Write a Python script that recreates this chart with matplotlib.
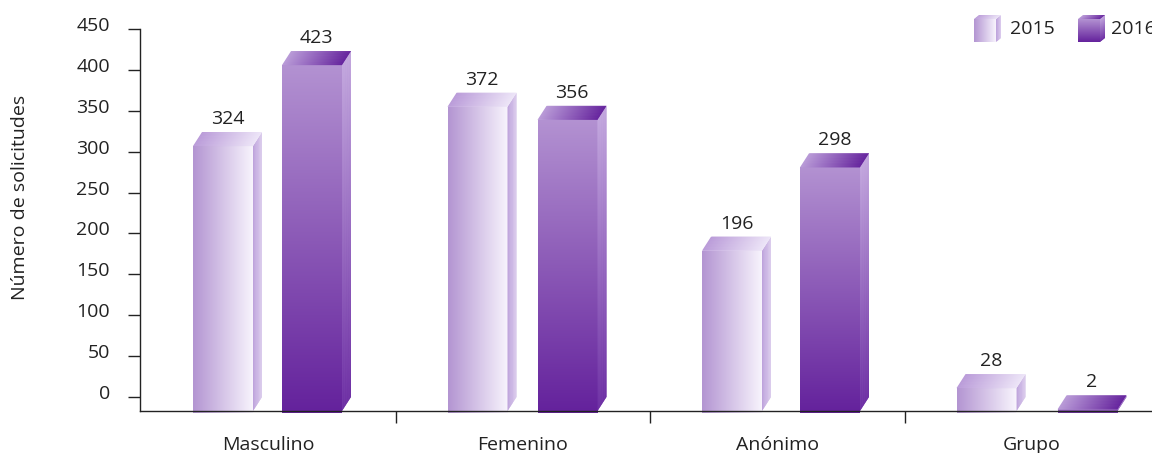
import matplotlib
matplotlib.use("Agg")
import matplotlib.pyplot as plt
import matplotlib.transforms as mtransforms
from matplotlib.patches import Polygon
import numpy as np

# ---- data ----
categories = ["Masculino", "Femenino", "Anónimo", "Grupo"]
years = ["2015", "2016"]
values_2015 = [324, 372, 196, 28]
values_2016 = [423, 356, 298, 2]
y_ticks = [0, 50, 100, 150, 200, 250, 300, 350, 400, 450]
y_label = "Número de solicitudes"

plt.rcParams['font.family'] = ['Open Sans', 'DejaVu Sans']
FS = 14

W, H = 1152, 453
fig = plt.figure(figsize=(W / 100, H / 100), dpi=100)
ax = fig.add_axes([140 / W, (H - 411) / H, (W - 140) / W, (411 - 29) / H])

ppu = (397 - 29) / 450.0
ax.set_ylim(-14 / ppu, 450)
cat_px = 254.5
ax.set_xlim(-(268.5 - 140) / cat_px, (1152 - 268.5) / cat_px)

for s in ["top", "right"]:
    ax.spines[s].set_visible(False)
for s in ["left", "bottom"]:
    ax.spines[s].set_linewidth(1.0)
    ax.spines[s].set_color("#222222")
    ax.spines[s].set_zorder(6)

ax.set_yticks(y_ticks)
ax.set_yticklabels([str(t) for t in y_ticks], fontsize=FS, color="#222222")
ax.tick_params(axis="y", length=8.6, width=1.0, color="#222222", pad=13)
off = mtransforms.ScaledTranslation(0, 5 / 100, fig.dpi_scale_trans)
for lab in ax.get_yticklabels():
    lab.set_transform(lab.get_transform() + off)

ax.set_xticks(range(len(categories)))
ax.set_xticklabels(categories, fontsize=FS, color="#222222")
ax.tick_params(axis="x", which="major", length=0, pad=18)
ax.set_xticks([0.5, 1.5, 2.5], minor=True)
ax.tick_params(axis="x", which="minor", length=8.6, width=1.0, color="#222222")

fig.text(20 / W, 1 - 197 / H, y_label, rotation=90, ha="center", va="center",
         fontsize=FS, color="#222222")

DX, DY = 9, 14  # depth offsets in pixels
ident = mtransforms.IdentityTransform()


def lerp(c0, c1, t):
    return tuple(a + (b - a) * t for a, b in zip(c0, c1))


def grad_quad(p00, p10, p11, p01, c0, c1, along="u", z=3):
    p00, p10, p11, p01 = map(np.asarray, (p00, p10, p11, p01))
    if along == "u":
        length = max(np.linalg.norm(p10 - p00), np.linalg.norm(p11 - p01))
    else:
        length = max(np.linalg.norm(p01 - p00), np.linalg.norm(p11 - p10))
    n = max(2, int(length))
    ext = 0.8 / max(length, 1e-6)
    for i in range(n):
        a = i / n
        b = min(1.0, (i + 1) / n + (ext if i < n - 1 else 0))
        t = (i + 0.5) / n
        col = lerp(c0, c1, t)
        if along == "u":
            pts = [p00 + (p10 - p00) * a, p00 + (p10 - p00) * b,
                   p01 + (p11 - p01) * b, p01 + (p11 - p01) * a]
        else:
            pts = [p00 + (p01 - p00) * a, p10 + (p11 - p10) * a,
                   p10 + (p11 - p10) * b, p00 + (p01 - p00) * b]
        ax.add_patch(Polygon(pts, closed=True, facecolor=col, edgecolor="none",
                             lw=0, transform=ident, zorder=z, clip_on=False))


L15 = (0.70, 0.58, 0.82)
W15 = (0.97, 0.955, 0.99)
S15a, S15b = (0.74, 0.63, 0.86), (0.86, 0.80, 0.93)
T15a, T15b = (0.73, 0.61, 0.85), (0.93, 0.90, 0.97)
F16a, F16b = (0.70, 0.57, 0.82), (0.39, 0.13, 0.61)
S16a, S16b = (0.76, 0.65, 0.87), (0.42, 0.17, 0.64)
T16a, T16b = (0.73, 0.61, 0.85), (0.40, 0.14, 0.62)

styles = {
    "2015": dict(front=(L15, W15, "u"), side=(S15a, S15b, "u"), top=(T15a, T15b, "u")),
    "2016": dict(front=(F16a, F16b, "v_down"), side=(S16a, S16b, "v_down"), top=(T16a, T16b, "u")),
}


def draw_box(X0, X1, Yb, Yt, st, dx=DX, dy=DY, under=0.0):
    fb, ft = Yb - dy - under, Yt - dy
    c0, c1, mode = st["front"]
    if mode == "u":
        grad_quad((X0, fb), (X1, fb), (X1, ft), (X0, ft), c0, c1, "u")
    else:
        grad_quad((X0, ft), (X1, ft), (X1, fb), (X0, fb), c0, c1, "v")
    c0, c1, mode = st["side"]
    sb = Yb - dy
    if mode == "u":
        grad_quad((X1, sb), (X1 + dx, Yb), (X1 + dx, Yt), (X1, ft), c0, c1, "u")
    else:
        grad_quad((X1, ft), (X1 + dx, Yt), (X1 + dx, Yb), (X1, sb), c0, c1, "v")
    c0, c1, mode = st["top"]
    grad_quad((X0, ft), (X1, ft), (X1 + dx, Yt), (X0 + dx, Yt), c0, c1, "u")


fig.canvas.draw()
bw = 60 / cat_px
left15 = -75.5 / cat_px               # front-face left edge of 2015 bar rel. to category
pair_gap = [89, 90, 98, 101]          # px between 2015 and 2016 front faces (layout)
for i in range(len(categories)):
    for year, vals, shift in (("2015", values_2015, 0.0),
                              ("2016", values_2016, pair_gap[i] / cat_px)):
        v = vals[i]
        xl = i + left15 + shift
        (X0, Yb), = ax.transData.transform([(xl, 0)])
        (X1, Yt), = ax.transData.transform([(xl + bw, v)])
        draw_box(X0, X1, Yb, Yt, styles[year], under=1.5)
        ax.annotate(str(v), xy=(xl + bw / 2, v), xytext=(4.5 * 0.72, 8 * 0.72),
                    textcoords="offset points", ha="center", va="baseline",
                    fontsize=FS, color="#222222", zorder=7)

# legend cubes
for year, x0, tx in (("2015", 974, 1010), ("2016", 1078, 1111)):
    top = H - 19
    bot = H - 42
    draw_box(x0, x0 + 22, bot + 4, top + 4, styles[year], dx=5, dy=4)
    fig.text(tx / W, (H - 29) / H, year, ha="left", va="center", fontsize=FS,
             color="#222222")

fig.savefig("out.png", dpi=100)
